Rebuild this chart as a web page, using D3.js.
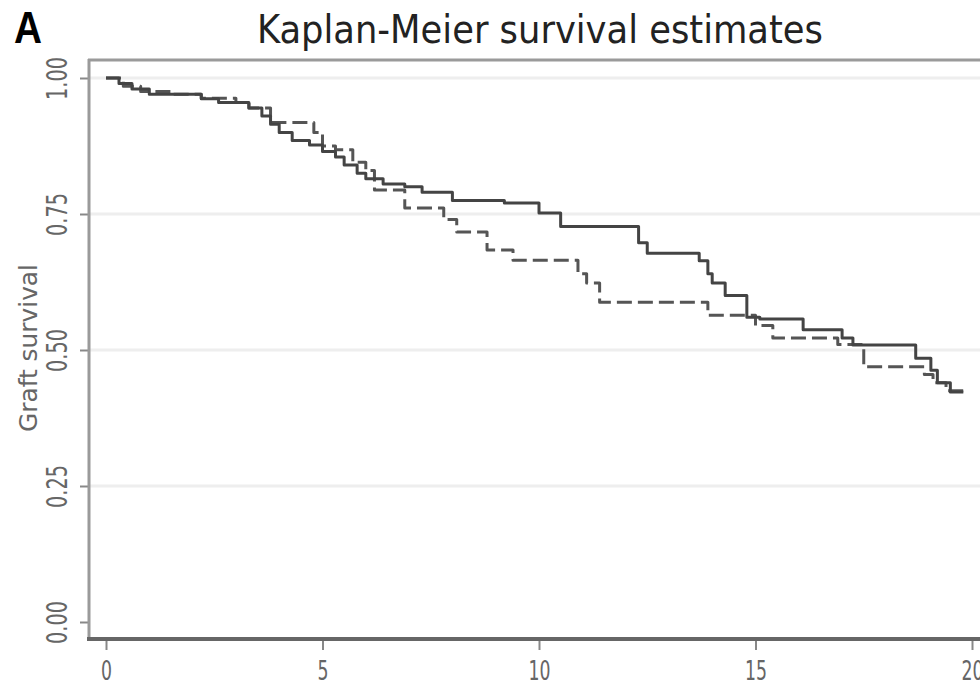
<!DOCTYPE html>
<html>
<head>
<meta charset="utf-8">
<script src="https://cdn.jsdelivr.net/npm/d3@7/dist/d3.min.js"></script>
<style>
	body { margin: 0; background: #fff; }
	svg { display: block; }
</style>
</head>
<body>
<div id="viz"></div>
<script>
// Kaplan-Meier curves (time, survival after step)
var solidTimes = [0, 0.3, 0.6, 1.0, 2.2, 2.6, 3.3, 3.6, 3.8, 4.0, 4.3, 4.7, 5.0, 5.3, 5.5, 5.8, 6.0, 6.4, 6.9, 7.3, 8.0, 9.2, 10.0, 10.5, 12.3, 12.5, 13.7, 13.9, 14.0, 14.3, 14.8, 15.1, 16.1, 17.0, 17.25, 18.7, 19.05, 19.2, 19.5, 19.8];
var solidSurv = [1.00, 0.99, 0.98, 0.97, 0.962, 0.955, 0.945, 0.93, 0.915, 0.90, 0.885, 0.877, 0.865, 0.855, 0.84, 0.825, 0.815, 0.805, 0.80, 0.79, 0.775, 0.77, 0.752, 0.727, 0.697, 0.678, 0.664, 0.64, 0.623, 0.60, 0.56, 0.557, 0.537, 0.522, 0.509, 0.485, 0.463, 0.44, 0.423, 0.423];

var dashedTimes = [0, 0.4, 0.8, 1.5, 2.2, 3.0, 3.3, 3.8, 4.8, 5.0, 5.3, 5.7, 6.0, 6.2, 6.9, 7.8, 8.1, 8.8, 9.4, 10.9, 11.1, 11.4, 13.9, 15.0, 15.4, 16.9, 17.5, 18.9, 19.1, 19.4, 19.8];
var dashedSurv = [1.00, 0.985, 0.975, 0.97, 0.963, 0.955, 0.945, 0.918, 0.90, 0.875, 0.868, 0.845, 0.83, 0.794, 0.761, 0.74, 0.717, 0.684, 0.665, 0.64, 0.623, 0.588, 0.564, 0.545, 0.522, 0.51, 0.469, 0.455, 0.44, 0.425, 0.425];

var yTicks = [0, 0.25, 0.5, 0.75, 1];
var yTickLabels = ["0.00", "0.25", "0.50", "0.75", "1.00"];
var xTicks = [0, 5, 10, 15, 20];

var WIDTH = 980;
var HEIGHT = 688;
var FONT = "'Liberation Sans Narrow', 'DejaVu Sans Condensed', 'Liberation Sans', sans-serif";

// narrow look: squeeze each label to a width based on its characters
var narrowWidth = function(s) {
	var w = 0;
	for (var i = 0; i < s.length; i++)
		w += s[i] == "." ? 6 : 11;
	return w;
};

var svg = d3.select("#viz").append("svg")
	.attr("width", WIDTH)
	.attr("height", HEIGHT);

var x = d3.scaleLinear().domain([0, 20]).range([106, 972]);
var y = d3.scaleLinear().domain([0, 1]).range([622, 78]);

// gridlines
svg.append("g")
	.selectAll("line")
	.data(yTicks.slice(1))
	.enter().append("line")
	.attr("x1", 89)
	.attr("x2", WIDTH)
	.attr("y1", function(d) { return y(d); })
	.attr("y2", function(d) { return y(d); })
	.attr("stroke", "#eeeeee")
	.attr("stroke-width", 3);

// frame: top line and left axis
svg.append("line")
	.attr("x1", 88).attr("x2", WIDTH)
	.attr("y1", 60).attr("y2", 60)
	.attr("stroke", "#9a9a9a")
	.attr("stroke-width", 3);

var yAxis = d3.axisLeft(y)
	.tickValues(yTicks)
	.tickFormat(function(d, i) { return yTickLabels[i]; })
	.tickSize(9)
	.tickPadding(0);

var gy = svg.append("g")
	.attr("transform", "translate(89,0)")
	.call(yAxis);
gy.select(".domain").remove();
gy.append("line")
	.attr("x1", 0).attr("x2", 0)
	.attr("y1", 59).attr("y2", 641)
	.attr("stroke", "#9a9a9a")
	.attr("stroke-width", 3);
gy.selectAll(".tick line")
	.attr("stroke", "#888")
	.attr("stroke-width", 2);
gy.selectAll(".tick text")
	.attr("x", 0)
	.attr("y", 0)
	.attr("transform", "translate(-32,0) rotate(-90)")
	.attr("text-anchor", "middle")
	.attr("dy", "0.36em")
	.attr("fill", "#666")
	.attr("textLength", function(d, i) { return narrowWidth(yTickLabels[i]) + 4; })
	.attr("lengthAdjust", "spacingAndGlyphs")
	.style("font-family", FONT)
	.style("font-size", "28px");

var xAxis = d3.axisBottom(x)
	.tickValues(xTicks)
	.tickSize(11)
	.tickPadding(11);

var gx = svg.append("g")
	.attr("transform", "translate(0,639)")
	.call(xAxis);
gx.select(".domain").remove();
gx.append("line")
	.attr("x1", 87).attr("x2", WIDTH)
	.attr("y1", 0).attr("y2", 0)
	.attr("stroke", "#666")
	.attr("stroke-width", 4);
gx.selectAll(".tick line")
	.attr("stroke", "#888")
	.attr("stroke-width", 2);
gx.selectAll(".tick text")
	.attr("fill", "#666")
	.attr("textLength", function(d) { return narrowWidth(String(d)); })
	.attr("lengthAdjust", "spacingAndGlyphs")
	.style("font-family", FONT)
	.style("font-size", "27px");

// survival curves
var line = d3.line()
	.x(function(d) { return x(d[0]); })
	.y(function(d) { return y(d[1]); })
	.curve(d3.curveStepAfter);

var solidData = d3.zip(solidTimes, solidSurv);
var dashedData = d3.zip(dashedTimes, dashedSurv);

svg.append("path")
	.datum(dashedData)
	.attr("d", line)
	.attr("fill", "none")
	.attr("stroke", "#555")
	.attr("stroke-width", 3)
	.attr("stroke-dasharray", "15,6")
	.attr("stroke-linejoin", "round");

svg.append("path")
	.datum(solidData)
	.attr("d", line)
	.attr("fill", "none")
	.attr("stroke", "#444")
	.attr("stroke-width", 3)
	.attr("stroke-linejoin", "round");

// titles
svg.append("text")
	.attr("x", 540)
	.attr("y", 43)
	.attr("text-anchor", "middle")
	.attr("textLength", 566)
	.attr("lengthAdjust", "spacingAndGlyphs")
	.attr("fill", "#222")
	.style("font-family", FONT)
	.style("font-size", "39px")
	.text("Kaplan-Meier survival estimates");

svg.append("text")
	.attr("x", 14)
	.attr("y", 43)
	.attr("textLength", 28)
	.attr("lengthAdjust", "spacingAndGlyphs")
	.attr("fill", "#000")
	.style("font-family", "'Liberation Sans', Arial, sans-serif")
	.style("font-weight", "bold")
	.style("font-size", "44px")
	.text("A");

svg.append("text")
	.attr("transform", "translate(37,348) rotate(-90)")
	.attr("text-anchor", "middle")
	.attr("textLength", 168)
	.attr("lengthAdjust", "spacingAndGlyphs")
	.attr("fill", "#666")
	.style("font-family", FONT)
	.style("font-size", "24px")
	.text("Graft survival");
</script>
</body>
</html>
